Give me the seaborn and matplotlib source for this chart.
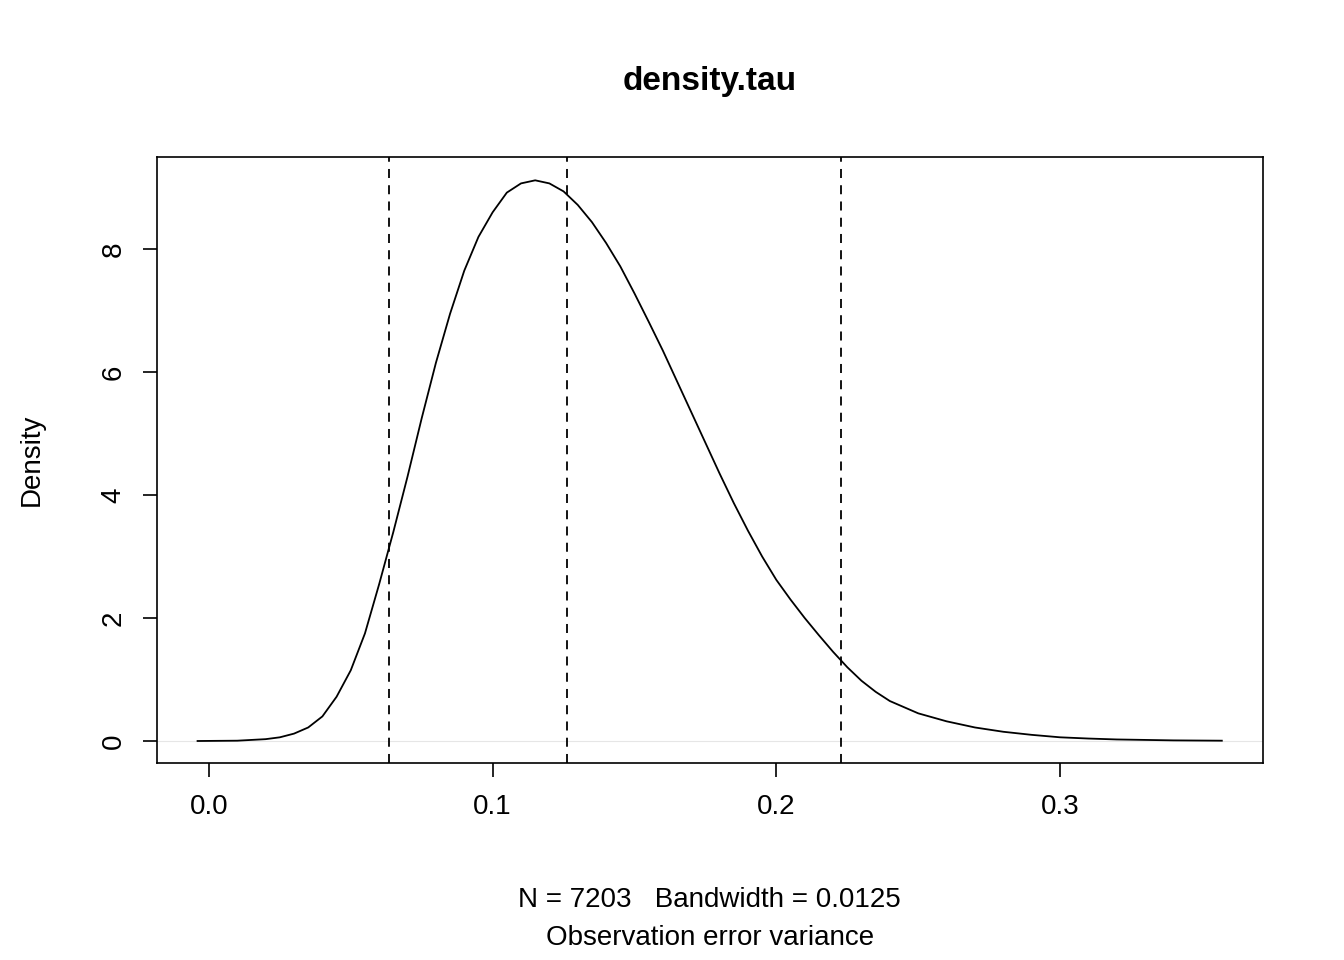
import matplotlib
matplotlib.use("Agg")
import matplotlib.pyplot as plt
import seaborn as sns
import pandas as pd

# density curve
tau = [-0.004, 0.01, 0.02, 0.025, 0.03, 0.035, 0.04, 0.045, 0.05, 0.055, 0.06, 0.065, 0.07, 0.075,
       0.08, 0.085, 0.09, 0.095, 0.10, 0.105, 0.11, 0.115, 0.12, 0.125, 0.13, 0.135, 0.14, 0.145,
       0.15, 0.155, 0.16, 0.165, 0.17, 0.175, 0.18, 0.185, 0.19, 0.195, 0.20, 0.205, 0.21, 0.215,
       0.22, 0.225, 0.23, 0.235, 0.24, 0.25, 0.26, 0.27, 0.28, 0.29, 0.30, 0.31, 0.32, 0.34, 0.357]
dens = [0.0, 0.005, 0.03, 0.06, 0.12, 0.22, 0.40, 0.72, 1.15, 1.75, 2.55, 3.40, 4.30, 5.25,
        6.15, 6.95, 7.65, 8.20, 8.60, 8.92, 9.07, 9.12, 9.07, 8.94, 8.72, 8.44, 8.10, 7.72,
        7.28, 6.82, 6.35, 5.85, 5.35, 4.85, 4.35, 3.87, 3.42, 3.00, 2.62, 2.30, 2.00, 1.72,
        1.45, 1.20, 0.98, 0.80, 0.65, 0.45, 0.32, 0.22, 0.15, 0.10, 0.06, 0.04, 0.025, 0.01, 0.005]
quantiles = [0.0634, 0.1262, 0.2229]
xticks = [0.0, 0.1, 0.2, 0.3]
yticks = [0, 2, 4, 6, 8]

plt.rcParams['font.family'] = ['Liberation Sans', 'DejaVu Sans']
fig = plt.figure(figsize=(13.44, 9.6), dpi=100)
ax = fig.add_axes([0.1168, 0.2052, 0.8229, 0.6313])

df = pd.DataFrame({'tau': tau, 'dens': dens})
ax.axhline(0, color='#e6e6e6', lw=0.8, zorder=0)
sns.lineplot(data=df, x='tau', y='dens', color='black', lw=1.3, ax=ax)
for q in quantiles:
    ax.axvline(q, color='black', ls=(0, (5, 4)), lw=1.3)

ax.set_xlim(-0.0183, 0.3715)
ax.set_ylim(-0.358, 9.50)
ax.set_xticks(xticks)
ax.set_xticklabels([f'{v:.1f}' for v in xticks])
ax.set_yticks(yticks)
ax.set_yticklabels([str(v) for v in yticks], rotation=90, va='center')
ax.tick_params(direction='out', length=10, width=1.2, labelsize=20, pad=12)
for s in ax.spines.values():
    s.set_linewidth(1.2)

ax.set_xlabel('')
ax.set_ylabel('Density', fontsize=20, labelpad=40)
fig.text(0.528, 0.915, 'density.tau', ha='center', va='center', fontsize=24, fontweight='bold')
fig.text(0.528, 0.0625, 'N = 7203   Bandwidth = 0.0125', ha='center', va='center', fontsize=20)
fig.text(0.528, 0.0229, 'Observation error variance', ha='center', va='center', fontsize=20)

fig.savefig('out.png', dpi=100)
